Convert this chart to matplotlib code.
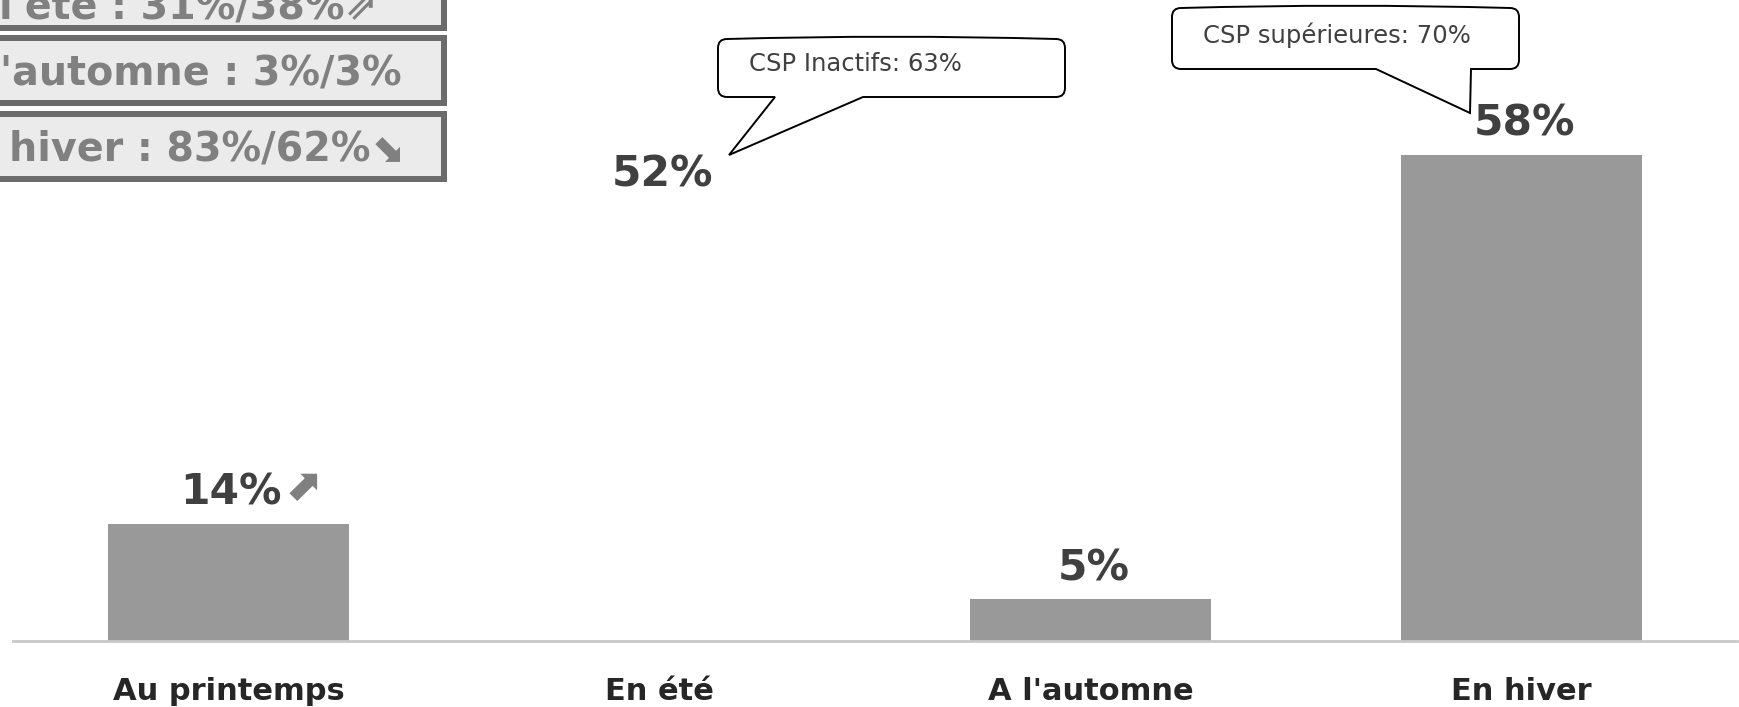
import matplotlib
matplotlib.use("Agg")
import matplotlib.pyplot as plt
from matplotlib.path import Path
from matplotlib.patches import PathPatch, Rectangle
from matplotlib.transforms import blended_transform_factory

# ---------------- data ----------------
categories = ["Au printemps", "En été", "A l'automne", "En hiver"]
values = [14, 52, 5, 58]
bar_colors = ["#999999", "#ffffff", "#999999", "#999999"]
trend_marks = ["⬈", "", "", ""]
callout_texts = ["CSP Inactifs: 63%", "CSP supérieures: 70%"]
side_hidden = ["", "A l", "En "]
side_visible = ["l'été : 31%/38%⇗", "'automne : 3%/3%", "hiver : 83%/62%⬊"]

# ---------------- layout ----------------
W, H = 1740, 707
fig = plt.figure(figsize=(W / 100, H / 100), dpi=100)
fig.patch.set_facecolor("white")


def fx(x):
    return x / W


def fy(y):
    return 1 - y / H


ax = fig.add_axes([fx(13), 66 / H, 1724 / W, 641 / H])
xs = list(range(len(categories)))
ax.bar(xs, values, width=0.56, color=bar_colors, zorder=2)
ax.set_xlim(-0.5, 3.5)
ax.set_ylim(0, 641 / (486 / 58))
for s in ["top", "right", "left"]:
    ax.spines[s].set_visible(False)
ax.spines["bottom"].set_color("#c8c8c8")
ax.spines["bottom"].set_linewidth(2)
ax.spines["bottom"].set_zorder(3)
ax.set_xticks([])
ax.set_yticks([])

# category labels
btr = blended_transform_factory(ax.transData, fig.transFigure)
for i, c in zip(xs, categories):
    ax.text(i, fy(700), c, transform=btr, ha="center", va="baseline",
            fontsize=22, fontweight="bold", color="#262626")

# value labels
labels = []
for i, v in zip(xs, values):
    t = ax.annotate(f"{v}%", xy=(i, v), xytext=(2, 19 * 0.72),
                    textcoords="offset points", ha="center", va="baseline",
                    fontsize=30.5, fontweight="bold", color="#404040")
    labels.append(t)

fig.canvas.draw()
renderer = fig.canvas.get_renderer()
for t, mark in zip(labels, trend_marks):
    if mark:
        bb = t.get_window_extent(renderer)
        fig.text((bb.x1 + 1) / W, (bb.y0 + 14) / H, mark, ha="left",
                 va="baseline", fontsize=32, fontweight="bold",
                 color="#808080")


# callouts (pixel geometry, y from top)
def callout(x0, x1, y0, y1, bx0, bx1, tx, ty, r=9, bow=3):
    w = x1 - x0
    pts = [
        (x0 + r, y0),
        (x0 + r + w / 3, y0 - bow), (x1 - r - w / 3, y0 - bow), (x1 - r, y0),
        (x1, y0), (x1, y0 + r),
        (x1, y1 - r),
        (x1, y1), (x1 - r, y1),
        (bx1, y1),
        (tx, ty),
        (bx0, y1),
        (x0 + r, y1),
        (x0, y1), (x0, y1 - r),
        (x0, y0 + r),
        (x0, y0), (x0 + r, y0),
        (x0 + r, y0),
    ]
    codes = [Path.MOVETO,
             Path.CURVE4, Path.CURVE4, Path.CURVE4,
             Path.CURVE3, Path.CURVE3,
             Path.LINETO,
             Path.CURVE3, Path.CURVE3,
             Path.LINETO, Path.LINETO, Path.LINETO, Path.LINETO,
             Path.CURVE3, Path.CURVE3,
             Path.LINETO,
             Path.CURVE3, Path.CURVE3,
             Path.CLOSEPOLY]
    verts = [(fx(a), fy(b)) for a, b in pts]
    p = PathPatch(Path(verts, codes), transform=fig.transFigure,
                  facecolor="white", edgecolor="black", linewidth=1.4,
                  zorder=5)
    fig.add_artist(p)


callout_geo = [
    dict(x0=718, x1=1065, y0=39, y1=97, bx0=775, bx1=863, tx=729, ty=155,
         text_x=749, text_y=64),
    dict(x0=1172, x1=1519, y0=8, y1=69, bx0=1376, bx1=1471, tx=1470, ty=113,
         text_x=1203, text_y=35),
]
for g, txt in zip(callout_geo, callout_texts):
    callout(g["x0"], g["x1"], g["y0"], g["y1"], g["bx0"], g["bx1"],
            g["tx"], g["ty"])
    fig.text(fx(g["text_x"]), fy(g["text_y"]), txt, ha="left",
             va="center", fontsize=17.5, color="#404040", zorder=6)

# side boxes (top-left, partly cut)
box_rows = [(-40, 31), (35, 106), (111, 182)]
baselines = [19, 84, 160]
vis_start = [-1, 0, 9]
SIDE_FS = 28.5


def text_width(s):
    if not s:
        return 0.0
    tmp = fig.text(0, 0.5, s, fontsize=SIDE_FS, fontweight="bold")
    w = tmp.get_window_extent(renderer).width
    tmp.remove()
    return w


for (y0, y1), base, hid, vis, xs0 in zip(box_rows, baselines, side_hidden,
                                        side_visible, vis_start):
    rect = Rectangle((fx(-10), fy(y1 - 3)), (447 - 3 + 10) / W,
                     (y1 - y0 - 6) / H, transform=fig.transFigure,
                     facecolor="#ebebeb", edgecolor="#6b6b6b",
                     linewidth=6 * 0.72, zorder=4)
    fig.add_artist(rect)
    wpx = text_width(hid + vis) - text_width(vis)
    fig.text((xs0 - wpx) / W, fy(base), hid + vis, ha="left",
             va="baseline", fontsize=SIDE_FS, fontweight="bold",
             color="#808080", zorder=5)

fig.savefig("out.png", dpi=100, facecolor="white")
